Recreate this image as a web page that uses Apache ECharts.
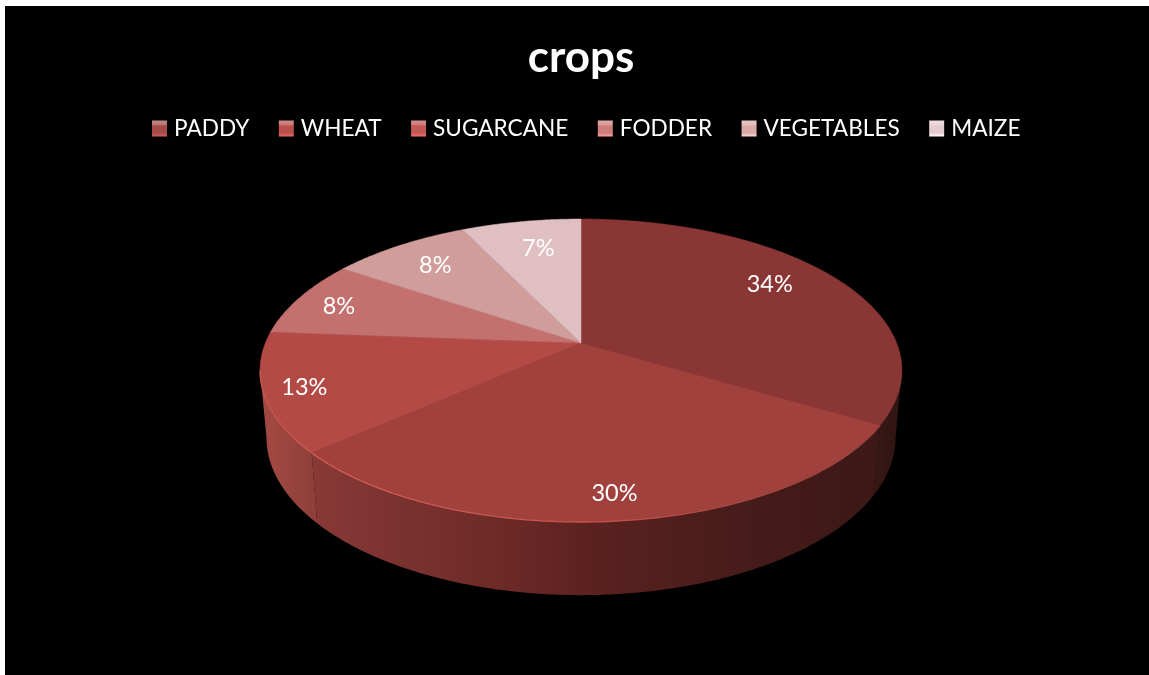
<!DOCTYPE html>
<html><head><meta charset="utf-8">
<script src="https://cdn.jsdelivr.net/npm/echarts@6/dist/echarts.min.js"></script>
<style>
html,body{margin:0;padding:0;background:#fff;width:1149px;height:675px;overflow:hidden}
#plate{position:absolute;left:5px;top:6px;width:1144px;height:669px;background:#000}
#chart{position:absolute;left:0;top:0;width:1149px;height:675px}
</style></head><body>
<div id="plate"></div><div id="chart"></div>
<script>
const categories = ['PADDY','WHEAT','SUGARCANE','FODDER','VEGETABLES','MAIZE'];
const values = [33.52,30,12.7,8.2,8.4,7.18];

const topColors = ['#8a3634','#a0413d','#b44a46','#c4706e','#d19d9b','#dfbfc2'];
const legendColors = ['#a34b49','#b9504c','#c25853','#cf7d7b','#dbaaa8','#e6cbce'];
const labelNudges = [[-4,-8],[8,24],[-42,8],[-28,-2],[-5,-2],[4,0]];
const wallFills = [
  {x1:860,x2:900,stops:[[0,'#3d1a17'],[1,'#2f1512']]},
  {x1:313,x2:882,stops:[[0,'#883936'],[0.18,'#78312e'],[0.33,'#6d2a27'],[0.5,'#5a211f'],[0.75,'#471c1a'],[1,'#3b1816']]},
  {x1:259,x2:313,stops:[[0,'#a64a44'],[1,'#8f403a']]}
];
const rimColors = [null,[[0,'#d65f58'],[0.55,'#c8524c'],[0.8,'#a24641'],[1,'#9a403c']],[[0,'#c9564f'],[1,'#d65f58']]];

const CX=581, CY=343, A=315.6, B=146.5, K=0.1815, WALL=66, SHRINK=0.98, WALL_SY=1.04;
const total = values.reduce((s,v)=>s+v,0);
const FRONT_START = Math.acos(-K), FRONT_END = 2*Math.PI-Math.acos(-K);

function project(theta,r){
  const a=r*Math.sin(theta), b=-r*Math.cos(theta), w=1-K*b;
  return [CX+A*a/w, CY+B*b/w];
}
function lower(p){ return [CX+(p[0]-CX)*SHRINK, CY+(p[1]-CY)*WALL_SY+WALL]; }
function arc(t1,t2){
  const n=Math.max(2,Math.ceil(Math.abs(t2-t1)/0.01)), out=[];
  for(let i=0;i<=n;i++) out.push(project(t1+(t2-t1)*i/n,1));
  return out;
}
function grad(x1,x2,stops){
  return new echarts.graphic.LinearGradient(x1,0,x2,0,stops.map(s=>({offset:s[0],color:s[1]})),true);
}
function renderSlice(index,value){
  const before = values.slice(0,index).reduce((s,v)=>s+v,0);
  const t1 = before/total*2*Math.PI, t2 = (before+value)/total*2*Math.PI;
  const children=[];
  const w1=Math.max(t1,FRONT_START), w2=Math.min(t2,FRONT_END);
  if(w2>w1 && wallFills[index]){
    const rim=arc(w1,w2), wf=wallFills[index];
    children.push({type:'polygon',shape:{points:rim.concat(rim.slice().reverse().map(lower))},
      style:{fill:grad(wf.x1,wf.x2,wf.stops)}});
  }
  children.push({type:'polygon',shape:{points:[[CX,CY]].concat(arc(t1,t2))},
    style:{fill:topColors[index],stroke:topColors[index],lineWidth:0.5}});
  if(w2>w1 && rimColors[index]){
    children.push({type:'polyline',shape:{points:arc(w1,w2)},
      style:{fill:null,stroke:grad(259,882,rimColors[index]),lineWidth:1.3}});
  }
  const mid=(t1+t2)/2, p=project(mid,0.75), nudge=labelNudges[index];
  children.push({type:'text',style:{text:Math.round(value/total*100)+'%',x:p[0]+nudge[0],y:p[1]+nudge[1],
    fill:'#fff',font:'23.5px Lato',align:'center',verticalAlign:'middle'},z2:10});
  return {type:'group',children};
}
function iconGradient(c){
  return new echarts.graphic.LinearGradient(0,0,0,1,[
    {offset:0,color:echarts.color.lift(c,0.35)},
    {offset:0.3,color:echarts.color.lift(c,0.2)},
    {offset:0.32,color:c},
    {offset:0.78,color:c},
    {offset:1,color:echarts.color.lift(c,-0.3)}
  ]);
}
const chart=echarts.init(document.getElementById('chart'),null,{renderer:'canvas'});
chart.setOption({
  animation:false,
  backgroundColor:'transparent',
  title:{text:'crops',left:581,top:36,padding:0,textAlign:'center',textStyle:{color:'#fff',fontFamily:'Lato',fontWeight:'bold',fontSize:44}},
  legend:{left:152,top:117,padding:0,itemWidth:15,itemHeight:16,itemGap:29.5,selectedMode:false,icon:'rect',
    textStyle:{color:'#fff',fontFamily:'Lato',fontSize:22.6,padding:[0,0,0,2]},
    data:categories.map((name,i)=>({name,itemStyle:{color:iconGradient(legendColors[i])}}))},
  series:categories.map((name,i)=>({
    type:'custom',name,coordinateSystem:'none',silent:true,clip:false,
    itemStyle:{color:topColors[i]},
    data:[[values[i]]],
    renderItem:(params,api)=>renderSlice(i,api.value(0))
  }))
});
</script></body></html>
